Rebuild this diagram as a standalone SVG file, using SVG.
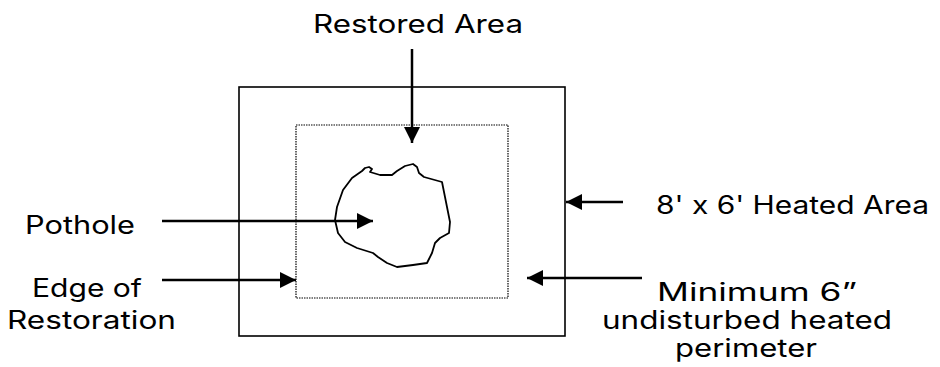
<svg xmlns="http://www.w3.org/2000/svg" width="940" height="367" viewBox="0 0 940 367">
<style>
.lbl{font-family:Inter,"Liberation Sans",sans-serif;font-size:25px;fill:#000}
.arr{stroke:#000;stroke-width:2.5;fill:none;marker-end:url(#ah)}
</style>
<defs>
<marker id="ah" markerUnits="userSpaceOnUse" markerWidth="16" markerHeight="16" refX="14" refY="7" orient="auto" viewBox="0 0 14 14">
<path d="M0,0 L14,7 L0,14 Z" fill="#000"/>
</marker>
</defs>
<rect width="940" height="367" fill="#fff"/>
<g id="heated-area">
<rect x="239" y="87" width="326" height="249" fill="none" stroke="#000" stroke-width="1.6"/>
</g>
<g id="restored-area">
<rect x="296" y="125" width="212" height="173" fill="none" stroke="#000" stroke-width="1.2" stroke-dasharray="1.5,1"/>
</g>
<g id="pothole">
<path d="M369,167 L372,169 L370,172 L380,175 L392,175 L397,171 L405,166 L413,164 L417,167 L419,173 L424,177 L442,182 L445,197 L450,222 L449,233 L440,238 L435,243 L432,253 L427,263 L413,265 L397,267 L387,263 L378,257 L373,253 L357,248 L345,242 L338,233 L335,220 L337,207 L343,190 L352,178 L362,171 L365,168 Z" fill="none" stroke="#000" stroke-width="1.8" stroke-linejoin="round"/>
</g>
<g id="connectors">
<line class="arr" x1="412" y1="49" x2="412" y2="143"/>
<line class="arr" x1="162" y1="221" x2="373" y2="221"/>
<line class="arr" x1="162" y1="280" x2="296" y2="280"/>
<line class="arr" x1="623" y1="202" x2="566" y2="202"/>
<line class="arr" x1="642" y1="278" x2="527" y2="278"/>
</g>
<g id="labels">
<text class="lbl" x="418" y="33" text-anchor="middle" textLength="210" lengthAdjust="spacingAndGlyphs">Restored Area</text>
<text class="lbl" x="25" y="234" textLength="110" lengthAdjust="spacingAndGlyphs">Pothole</text>
<text class="lbl" x="32" y="297" textLength="110" lengthAdjust="spacingAndGlyphs">Edge of</text>
<text class="lbl" x="7" y="329" textLength="169" lengthAdjust="spacingAndGlyphs">Restoration</text>
<text class="lbl" x="656" y="214" textLength="273" lengthAdjust="spacingAndGlyphs">8' x 6' Heated Area</text>
<text class="lbl" x="657" y="301" textLength="200" lengthAdjust="spacingAndGlyphs">Minimum 6”</text>
<text class="lbl" x="602" y="329" textLength="290" lengthAdjust="spacingAndGlyphs">undisturbed heated</text>
<text class="lbl" x="675" y="357" textLength="142" lengthAdjust="spacingAndGlyphs">perimeter</text>
</g>
</svg>
